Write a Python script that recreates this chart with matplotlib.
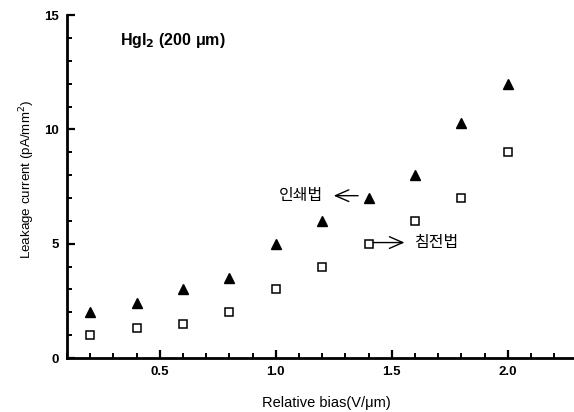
import matplotlib
matplotlib.use("Agg")
import matplotlib.pyplot as plt
from matplotlib.ticker import MultipleLocator

plt.rcParams['font.family'] = ['Liberation Sans', 'Noto Sans CJK KR', 'DejaVu Sans']

# data
bias = [0.2, 0.4, 0.6, 0.8, 1.0, 1.2, 1.4, 1.6, 1.8, 2.0]
printed = [2.0, 2.4, 3.0, 3.5, 5.0, 6.0, 7.0, 8.0, 10.3, 12.0]   # 인쇄법 (filled triangles)
settled = [1.0, 1.3, 1.5, 2.0, 3.0, 4.0, 5.0, 6.0, 7.0, 9.0]     # 침전법 (open squares)
xticks = [0.5, 1.0, 1.5, 2.0]
yticks = [0, 5, 10, 15]

fig = plt.figure(figsize=(5.74, 4.12), dpi=100)
ax = fig.add_axes([0.1167, 0.131, 0.883, 0.8325])

ax.plot(bias, printed, linestyle='none', marker='^', markersize=7,
        color='black', clip_on=False)
ax.plot(bias, settled, linestyle='none', marker='s', markersize=5.8,
        markerfacecolor='white', markeredgecolor='black', markeredgewidth=1.1,
        clip_on=False)

ax.set_xlim(0.1, 2.285)
ax.set_ylim(0, 15)
ax.set_xticks(xticks)
ax.set_xticklabels(['%.1f' % v for v in xticks])
ax.set_yticks(yticks)
ax.xaxis.set_minor_locator(MultipleLocator(0.1))
ax.yaxis.set_minor_locator(MultipleLocator(1))

for side in ['top', 'right']:
    ax.spines[side].set_visible(False)
for side in ['left', 'bottom']:
    ax.spines[side].set_linewidth(2)

ax.tick_params(which='major', direction='in', length=6, width=1.6,
               labelsize=9.5, pad=6)
ax.tick_params(which='minor', direction='in', length=3.5, width=1.4)
for lab in ax.get_xticklabels() + ax.get_yticklabels():
    lab.set_fontweight('bold')

ax.set_xlabel('Relative bias(V/\u03bcm)', fontsize=10.5)
ax.xaxis.set_label_coords(0.512, -0.11)
ax.set_ylabel('Leakage current (pA/mm$^{2}$)', fontsize=9.6)
ax.yaxis.set_label_coords(-0.06, 0.52)

ax.text(0.33, 13.9, 'HgI$_\\mathbf{2}$ (200 \u03bcm)', fontsize=11.5,
        fontweight='bold', va='center', ha='left')

# annotations
arrow = dict(arrowstyle='->,head_length=0.8,head_width=0.35', lw=1.0,
             color='black', mutation_scale=12, shrinkA=0, shrinkB=0)
ax.text(1.108, 7.1, '인쇄법', fontsize=11.5, ha='center', va='center',
        family=['Noto Sans CJK KR', 'DejaVu Sans'])
ax.annotate('', xy=(1.25, 7.1), xytext=(1.355, 7.1), arrowprops=arrow)
ax.annotate('', xy=(1.555, 5.05), xytext=(1.42, 5.05), arrowprops=arrow)
ax.text(1.60, 5.05, '침전법', fontsize=11.5, ha='left', va='center',
        family=['Noto Sans CJK KR', 'DejaVu Sans'])

fig.savefig('out.png', dpi=100)
